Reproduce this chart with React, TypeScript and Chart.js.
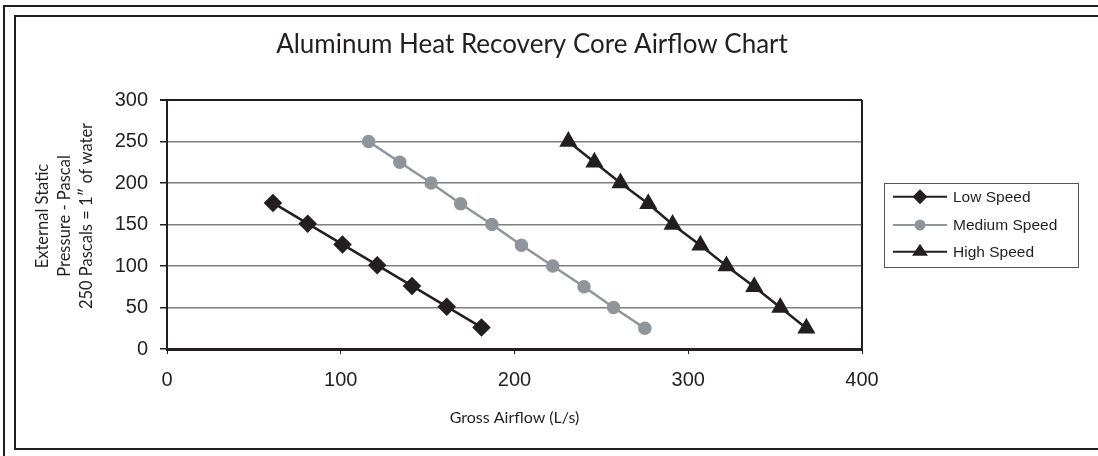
import React, { useEffect, useRef } from "react";
import { Chart, registerables } from "chart.js";

Chart.register(...registerables);

const TITLE = "Aluminum Heat Recovery Core Airflow Chart";
const X_TITLE = "Gross Airflow (L/s)";
const Y_TITLE = ["External Static", "Pressure - Pascal", "250 Pascals = 1\u2033 of water"];

const SERIES_NAMES = ["Low Speed", "Medium Speed", "High Speed"];
const lowX = [61, 81, 101, 121, 141, 161, 181];
const lowY = [176, 151, 126, 101, 76, 51, 26];
const medX = [116, 134, 152, 169, 187, 204, 222, 240, 257, 275];
const medY = [250, 225, 200, 175, 150, 125, 100, 75, 50, 25];
const highX = [231, 246, 261, 277, 291, 307, 322, 338, 353, 368];
const highY = [250, 225, 200, 175, 150, 125, 100, 75, 50, 25];

const X_MIN = 0, X_MAX = 400, X_STEP = 100;
const Y_MIN = 0, Y_MAX = 300, Y_STEP = 50;

const DARK = "#231f20";
const GRAY_SERIES = "#8f959a";
const GRID = "#7f7f7f";
const FONT = "'Liberation Sans', Arial, sans-serif";
const HFONT = "Lato, 'Liberation Sans', sans-serif";

const zip = (xs: number[], ys: number[]) => xs.map((x, i) => ({ x, y: ys[i] }));

function drawMarker(ctx: CanvasRenderingContext2D, style: string, x: number, y: number, r: number, color: string) {
  ctx.save();
  ctx.fillStyle = color;
  ctx.strokeStyle = color;
  ctx.beginPath();
  if (style === "rectRot") {
    ctx.moveTo(x - r, y);
    ctx.lineTo(x, y - r);
    ctx.lineTo(x + r, y);
    ctx.lineTo(x, y + r);
    ctx.closePath();
  } else if (style === "circle") {
    ctx.arc(x, y, r, 0, Math.PI * 2);
  } else {
    const h = r * 1.5;
    ctx.moveTo(x, y - h * 0.66);
    ctx.lineTo(x + r, y + h * 0.34);
    ctx.lineTo(x - r, y + h * 0.34);
    ctx.closePath();
  }
  ctx.fill();
  ctx.restore();
}

const decorPlugin = {
  id: "decor",
  beforeDraw(chart: any) {
    const ctx = chart.ctx as CanvasRenderingContext2D;
    ctx.save();
    ctx.fillStyle = "#fff";
    ctx.fillRect(0, 0, chart.width, chart.height);
    ctx.strokeStyle = DARK;
    ctx.lineWidth = 2;
    ctx.beginPath();
    ctx.moveTo(4, chart.height + 2);
    ctx.lineTo(4, 6);
    ctx.lineTo(chart.width + 2, 6);
    ctx.stroke();
    ctx.beginPath();
    ctx.moveTo(chart.width + 2, 449);
    ctx.lineTo(15, 449);
    ctx.lineTo(15, 16);
    ctx.lineTo(chart.width + 2, 16);
    ctx.stroke();
    ctx.restore();
  },
  afterDraw(chart: any) {
    const ctx = chart.ctx as CanvasRenderingContext2D;
    const area = chart.chartArea;
    ctx.save();
    ctx.strokeStyle = DARK;
    ctx.lineWidth = 2;
    ctx.beginPath();
    ctx.moveTo(area.right, area.top);
    ctx.lineTo(area.right, area.bottom);
    ctx.stroke();

    ctx.fillStyle = DARK;
    ctx.font = `26px ${HFONT}`;
    ctx.textAlign = "center";
    ctx.textBaseline = "middle";
    ctx.fillText(TITLE, 532, 45);

    ctx.font = `16px ${HFONT}`;
    ctx.fillText(X_TITLE, (area.left + area.right) / 2, 418);

    ctx.save();
    ctx.translate(65, 216);
    ctx.rotate(-Math.PI / 2);
    ctx.font = `16.5px ${HFONT}`;
    Y_TITLE.forEach((t, i) => ctx.fillText(t, 0, (i - 1) * 22));
    ctx.restore();

    const lx = 884, ly = 183, lw = 194, lh = 84;
    ctx.strokeStyle = "#555";
    ctx.lineWidth = 1;
    ctx.strokeRect(lx + 0.5, ly + 0.5, lw, lh);
    const rows = [196.7, 225, 251.7];
    chart.data.datasets.forEach((ds: any, i: number) => {
      const y = rows[i];
      ctx.strokeStyle = ds.borderColor;
      ctx.lineWidth = 2;
      ctx.beginPath();
      ctx.moveTo(893, y);
      ctx.lineTo(947, y);
      ctx.stroke();
      drawMarker(ctx, ds.pointStyle, 920, y, ds.pointRadius, ds.pointBackgroundColor);
      ctx.fillStyle = DARK;
      ctx.font = `15.5px ${FONT}`;
      ctx.textAlign = "left";
      ctx.textBaseline = "middle";
      ctx.fillText(ds.label, 953, y + 1);
    });
    ctx.restore();
  },
};

export default function App() {
  const ref = useRef<HTMLCanvasElement>(null);
  useEffect(() => {
    if (!ref.current) return;
    const chart = new Chart(ref.current, {
      type: "scatter",
      data: {
        datasets: [
          {
            label: SERIES_NAMES[0],
            data: zip(lowX, lowY),
            showLine: true,
            borderColor: DARK,
            backgroundColor: DARK,
            pointBackgroundColor: DARK,
            pointBorderColor: DARK,
            pointStyle: "rectRot",
            pointRadius: 7.5,
            borderWidth: 2.5,
          },
          {
            label: SERIES_NAMES[1],
            data: zip(medX, medY),
            showLine: true,
            borderColor: GRAY_SERIES,
            backgroundColor: GRAY_SERIES,
            pointBackgroundColor: GRAY_SERIES,
            pointBorderColor: GRAY_SERIES,
            pointStyle: "circle",
            pointRadius: 5.5,
            borderWidth: 2.5,
          },
          {
            label: SERIES_NAMES[2],
            data: zip(highX, highY),
            showLine: true,
            borderColor: DARK,
            backgroundColor: DARK,
            pointBackgroundColor: DARK,
            pointBorderColor: DARK,
            pointStyle: "triangle",
            pointRadius: 8,
            borderWidth: 2.5,
          },
        ] as any,
      },
      options: {
        animation: false,
        responsive: false,
        maintainAspectRatio: false,
        layout: { padding: { left: 0, right: 236, top: 100, bottom: 0 } },
        plugins: { legend: { display: false }, title: { display: false }, tooltip: { enabled: false } },
        elements: { line: { tension: 0 }, point: { borderWidth: 1 } },
        scales: {
          x: {
            type: "linear",
            min: X_MIN,
            max: X_MAX,
            afterFit: (s: any) => { s.height = 107; },
            border: { display: true, color: DARK, width: 3 },
            grid: { drawOnChartArea: false, drawTicks: true, tickLength: 5, tickColor: DARK, tickWidth: 1 },
            ticks: { stepSize: X_STEP, color: DARK, font: { family: FONT, size: 20 }, padding: 14, maxRotation: 0 },
          },
          y: {
            type: "linear",
            min: Y_MIN,
            max: Y_MAX,
            afterFit: (s: any) => { s.width = 167; },
            border: { display: true, color: DARK, width: 2 },
            grid: {
              drawOnChartArea: true,
              color: (c: any) => (c.tick && c.tick.value === Y_MAX ? DARK : GRID),
              lineWidth: (c: any) => (c.tick && c.tick.value === Y_MAX ? 2 : 1.5),
              tickColor: DARK,
              tickLength: 7,
            },
            ticks: { stepSize: Y_STEP, color: DARK, font: { family: FONT, size: 20 }, padding: 12 },
          },
        },
      } as any,
      plugins: [decorPlugin],
    });
    return () => chart.destroy();
  }, []);
  return (
    <div style={{ position: "fixed", left: 0, top: 0, width: 1098, height: 456, background: "#fff" }}>
      <canvas ref={ref} width={1098} height={456} style={{ display: "block", width: 1098, height: 456 }} />
    </div>
  );
}
